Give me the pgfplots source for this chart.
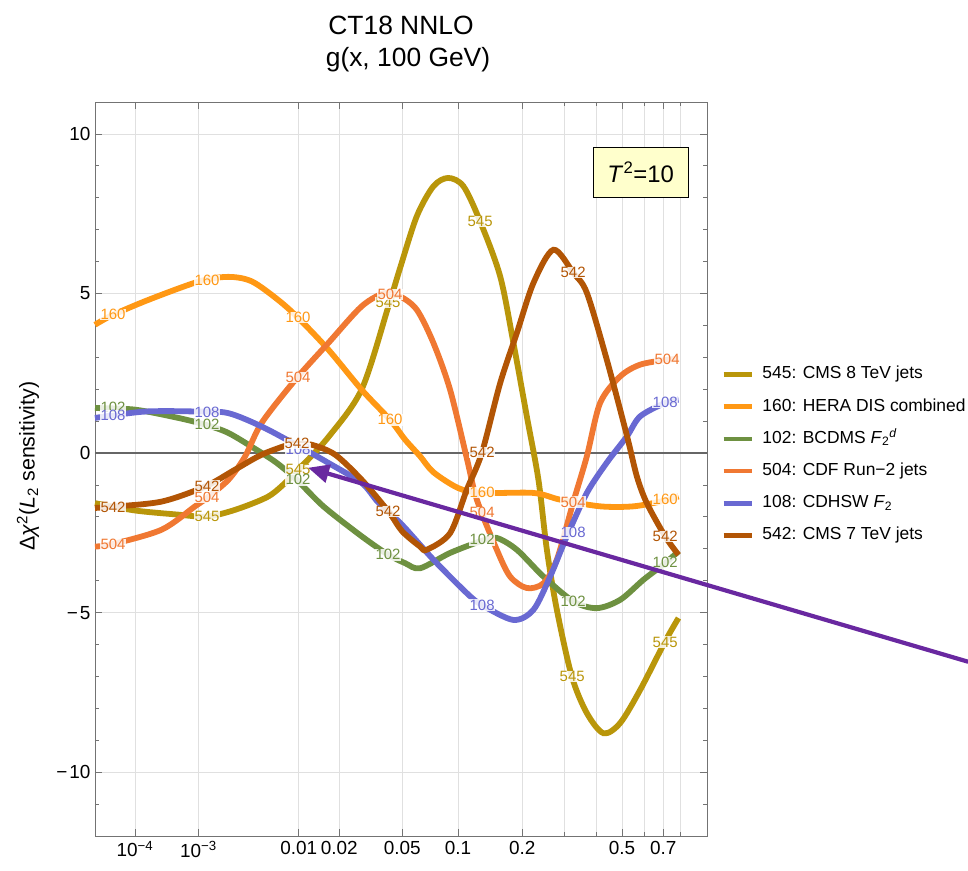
\documentclass[border=0pt]{standalone}
\usepackage{fontspec}
\setmainfont{Liberation Sans}
\usepackage{pgfplots}
\pgfplotsset{compat=1.18}
\usetikzlibrary{arrows.meta,calc}

\definecolor{c545}{RGB}{185,150,10}
\definecolor{c160}{RGB}{255,152,20}
\definecolor{c102}{RGB}{110,145,65}
\definecolor{c504}{RGB}{240,120,50}
\definecolor{c108}{RGB}{105,105,210}
\definecolor{c542}{RGB}{178,85,5}
\definecolor{carrow}{RGB}{105,40,160}
\definecolor{boxfill}{RGB}{255,255,204}

\tikzset{lbl/.style={font=\fontsize{15}{16}\selectfont, fill=white, fill opacity=0.85, text opacity=1, inner sep=0.4bp}}

\begin{document}
% x axis: plotted coordinate u = x^{0.2}
\begin{tikzpicture}
\begin{axis}[
  scale only axis, width=612bp, height=734bp,
  xmin=0.1, xmax=0.995, ymin=-12, ymax=11,
  clip=false,
  axis line style={black!55, line width=0.8bp},
  xtick={0.158489,0.251189,0.398107,0.457305,0.549280,0.630957,0.724780,0.870551,0.931149},
  xticklabels={10\textsuperscript{−4},10\textsuperscript{−3},0.01,0.02,0.05,0.1,0.2,0.5,0.7},
  minor xtick={0.786003,0.832553,0.902949,0.956352},
  ytick={-10,-5,0,5,10},
  yticklabels={−\hspace{2bp}10,−\hspace{2bp}5,0,5,10},
  minor ytick={-11,-9,-8,-7,-6,-4,-3,-2,-1,1,2,3,4,6,7,8,9},
  xmajorgrids, xminorgrids, ymajorgrids,
  grid style={black!12, line width=0.8bp},
  minor grid style={black!12, line width=0.8bp},
  tick style={black!55, line width=0.8bp},
  major tick length=7bp, minor tick length=4bp,
  tick align=inside,
  /pgf/number format/assume math mode=true,
  ticklabel style={font=\fontsize{19}{21}\selectfont},
  xticklabel style={yshift=-2bp},
  yticklabel style={xshift=-1bp},
  ylabel={Δ\textit{χ}\textsuperscript{2}(\textit{L}\textsubscript{2} sensitivity)},
  ylabel style={at={(axis description cs:-0.1095,0.504)}, anchor=center, font=\fontsize{21.5}{24}\selectfont},
  legend style={at={(1.023,0.642)}, anchor=north west, draw=none, fill=none, inner sep=0pt,
    font=\fontsize{17.5}{20}\selectfont, row sep=13.2bp,
    nodes={inner sep=1bp, text height=13bp, text depth=4bp}},
  legend cell align=left,
  legend image code/.code={\draw[#1,line width=4.5bp] (0bp,0bp) -- (28bp,0bp); \path (35bp,0bp);},
]
\coordinate (SW) at (rel axis cs:0,0);
\coordinate (NE) at (rel axis cs:1,1);
\draw[black!60, line width=1.3bp] (axis cs:0.1,0) -- (axis cs:0.995,0);

% 545: CMS 8 TeV jets
\addplot[c545, line width=5.8bp, smooth] coordinates {
(0.1,-1.57) (0.1585,-1.80) (0.2219,-1.93) (0.2634,-1.99) (0.3048,-1.78) (0.3535,-1.36)
(0.3828,-0.84) (0.3974,-0.52) (0.4413,0.50) (0.4901,2.0) (0.5291,4.6) (0.5462,5.8)
(0.5706,7.42) (0.5949,8.36) (0.6164,8.62) (0.6388,8.36) (0.6632,7.26) (0.6925,5.54)
(0.7119,3.45) (0.7315,1.15) (0.7485,-0.84) (0.7608,-3.03) (0.7754,-4.91) (0.7973,-7.0)
(0.8193,-8.15) (0.8436,-8.78) (0.8680,-8.46) (0.8973,-7.42) (0.9338,-5.9) (0.9533,-5.17)};
\addlegendentry{545: CMS 8 TeV jets}

% 160: HERA DIS combined
\addplot[c160, line width=5.8bp, smooth] coordinates {
(0.1,4.02) (0.1263,4.33) (0.1805,4.82) (0.2526,5.38) (0.2950,5.52) (0.3292,5.38)
(0.3677,4.80) (0.3974,4.23) (0.4413,3.24) (0.4901,1.98) (0.5315,1.04) (0.5535,0.42)
(0.5754,-0.10) (0.5949,-0.60) (0.6315,-1.10) (0.6657,-1.25) (0.7412,-1.25) (0.7802,-1.46)
(0.8387,-1.67) (0.8874,-1.67) (0.9313,-1.50) (0.9533,-1.36)};
\addlegendentry{160: HERA DIS combined}

% 102: BCDMS F2d
\addplot[c102, line width=5.8bp, smooth] coordinates {
(0.1,1.41) (0.1585,1.36) (0.2219,1.10) (0.2609,0.89) (0.2950,0.63) (0.3365,0.10)
(0.3658,-0.31) (0.3951,-0.84) (0.4340,-1.67) (0.4901,-2.61) (0.5291,-3.19) (0.5535,-3.45)
(0.5754,-3.61) (0.6193,-3.13) (0.6657,-2.75) (0.6876,-2.66) (0.7169,-3.03) (0.7558,-3.87)
(0.7997,-4.65) (0.8339,-4.86) (0.8680,-4.6) (0.9021,-3.97) (0.9338,-3.45) (0.9533,-3.08)};
\addlegendentry{102: BCDMS \textit{F}\textsubscript{2}\textsuperscript{\textit{d}}}

% 504: CDF Run-2 jets
\addplot[c504, line width=5.8bp, smooth] coordinates {
(0.1,-2.93) (0.1263,-2.85) (0.1976,-2.40) (0.2463,-1.67) (0.2634,-1.41) (0.2950,-0.84)
(0.3194,-0.11) (0.3439,0.95) (0.3951,2.35) (0.4413,3.45) (0.4901,4.6) (0.5242,5.02)
(0.5462,4.91) (0.5706,4.49) (0.5949,3.45) (0.6193,1.98) (0.6437,-0.16) (0.6584,-1.46)
(0.6876,-3.03) (0.7071,-3.87) (0.7315,-4.23) (0.7558,-4.08) (0.7754,-3.34) (0.7997,-1.52)
(0.8193,-0.10) (0.8387,1.57) (0.8680,2.40) (0.8973,2.77) (0.9363,2.92) (0.9533,2.95)};
\addlegendentry{504: CDF Run−2 jets}

% 108: CDHSW F2
\addplot[c108, line width=5.8bp, smooth] coordinates {
(0.1,1.10) (0.1731,1.30) (0.2526,1.30) (0.2950,1.25) (0.3439,0.83) (0.4024,0.16)
(0.4413,-0.31) (0.4901,-0.94) (0.5144,-1.55) (0.5491,-2.25) (0.5949,-3.34) (0.6437,-4.39)
(0.6657,-4.76) (0.7119,-5.23) (0.7412,-4.91) (0.7656,-3.87) (0.7900,-2.61) (0.8193,-1.25)
(0.8485,-0.3) (0.8778,0.52) (0.8973,1.15) (0.9338,1.57) (0.9533,1.67)};
\addlegendentry{108: CDHSW \textit{F}\textsubscript{2}}

% 542: CMS 7 TeV jets
\addplot[c542, line width=5.8bp, smooth] coordinates {
(0.1,-1.72) (0.1263,-1.68) (0.1976,-1.52) (0.2609,-1.05) (0.3048,-0.52) (0.3439,-0.05)
(0.3828,0.26) (0.3951,0.29) (0.4170,0.26) (0.4511,-0.05) (0.4901,-0.84) (0.5291,-1.83)
(0.5491,-2.45) (0.5754,-2.93) (0.5852,-3.03) (0.6193,-2.51) (0.6437,-1.15) (0.6657,0.0)
(0.6925,2.19) (0.7169,3.76) (0.7412,5.33) (0.7704,6.37) (0.7997,5.64) (0.8193,5.02)
(0.8485,2.92) (0.8778,0.55) (0.8924,-0.73) (0.9070,-1.57) (0.9338,-2.61) (0.9533,-3.19)};
\addlegendentry{542: CMS 7 TeV jets}

% curve labels
\node[lbl, text=c545] at (axis cs:0.2638,-1.99) {545};
\node[lbl, text=c545] at (axis cs:0.3970,-0.52) {545};
\node[lbl, text=c545] at (axis cs:0.5286,4.71) {545};
\node[lbl, text=c545] at (axis cs:0.6632,7.25) {545};
\node[lbl, text=c545] at (axis cs:0.7978,-7.01) {545};
\node[lbl, text=c545] at (axis cs:0.9338,-5.92) {545};
\node[lbl, text=c160] at (axis cs:0.1263,4.34) {160};
\node[lbl, text=c160] at (axis cs:0.2638,5.41) {160};
\node[lbl, text=c160] at (axis cs:0.3970,4.24) {160};
\node[lbl, text=c160] at (axis cs:0.5315,1.04) {160};
\node[lbl, text=c160] at (axis cs:0.6661,-1.24) {160};
\node[lbl, text=c160] at (axis cs:0.9338,-1.46) {160};
\node[lbl, text=c102] at (axis cs:0.1263,1.42) {102};
\node[lbl, text=c102] at (axis cs:0.2638,0.89) {102};
\node[lbl, text=c102] at (axis cs:0.3970,-0.84) {102};
\node[lbl, text=c102] at (axis cs:0.5286,-3.19) {102};
\node[lbl, text=c102] at (axis cs:0.6661,-2.72) {102};
\node[lbl, text=c102] at (axis cs:0.7992,-4.66) {102};
\node[lbl, text=c102] at (axis cs:0.9338,-3.44) {102};
\node[lbl, text=c504] at (axis cs:0.1263,-2.87) {504};
\node[lbl, text=c504] at (axis cs:0.2638,-1.40) {504};
\node[lbl, text=c504] at (axis cs:0.3970,2.36) {504};
\node[lbl, text=c504] at (axis cs:0.5315,4.96) {504};
\node[lbl, text=c504] at (axis cs:0.6661,-1.87) {504};
\node[lbl, text=c504] at (axis cs:0.7992,-1.53) {504};
\node[lbl, text=c504] at (axis cs:0.9367,2.93) {504};
\node[lbl, text=c108] at (axis cs:0.1263,1.17) {108};
\node[lbl, text=c108] at (axis cs:0.2638,1.29) {108};
\node[lbl, text=c108] at (axis cs:0.3970,0.13) {108};
\node[lbl, text=c108] at (axis cs:0.6661,-4.76) {108};
\node[lbl, text=c108] at (axis cs:0.7992,-2.50) {108};
\node[lbl, text=c108] at (axis cs:0.9338,1.58) {108};
\node[lbl, text=c542] at (axis cs:0.1263,-1.71) {542};
\node[lbl, text=c542] at (axis cs:0.2638,-1.03) {542};
\node[lbl, text=c542] at (axis cs:0.3955,0.29) {542};
\node[lbl, text=c542] at (axis cs:0.5286,-1.83) {542};
\node[lbl, text=c542] at (axis cs:0.6661,0.01) {542};
\node[lbl, text=c542] at (axis cs:0.7992,5.65) {542};
\node[lbl, text=c542] at (axis cs:0.9338,-2.62) {542};

% T^2 box
\node[draw=black, line width=1.3bp, fill=boxfill, minimum width=95bp, minimum height=50bp,
  inner sep=0pt, font=\fontsize{24}{28}\selectfont] at (axis cs:0.898,8.79) {\textit{T}\textsuperscript{2}=10};

% title
\node[anchor=base, yshift=67bp, font=\fontsize{26.5}{30}\selectfont] at (rel axis cs:0.5,1) {CT18 NNLO};
\node[anchor=base, yshift=35bp, xshift=7bp, font=\fontsize{26.5}{30}\selectfont] at (rel axis cs:0.5,1) {g(x, 100 GeV)};

% annotation arrow
\draw[carrow, line width=4.2bp, -{Triangle[length=21bp,width=18bp]}] (axis cs:1.377,-6.54) -- (axis cs:0.4116,-0.46);
\end{axis}
\pgfresetboundingbox
\path[use as bounding box] ($(SW)+(-95bp,-34bp)$) rectangle ($(NE)+(261bp,102bp)$);
\end{tikzpicture}
\end{document}
